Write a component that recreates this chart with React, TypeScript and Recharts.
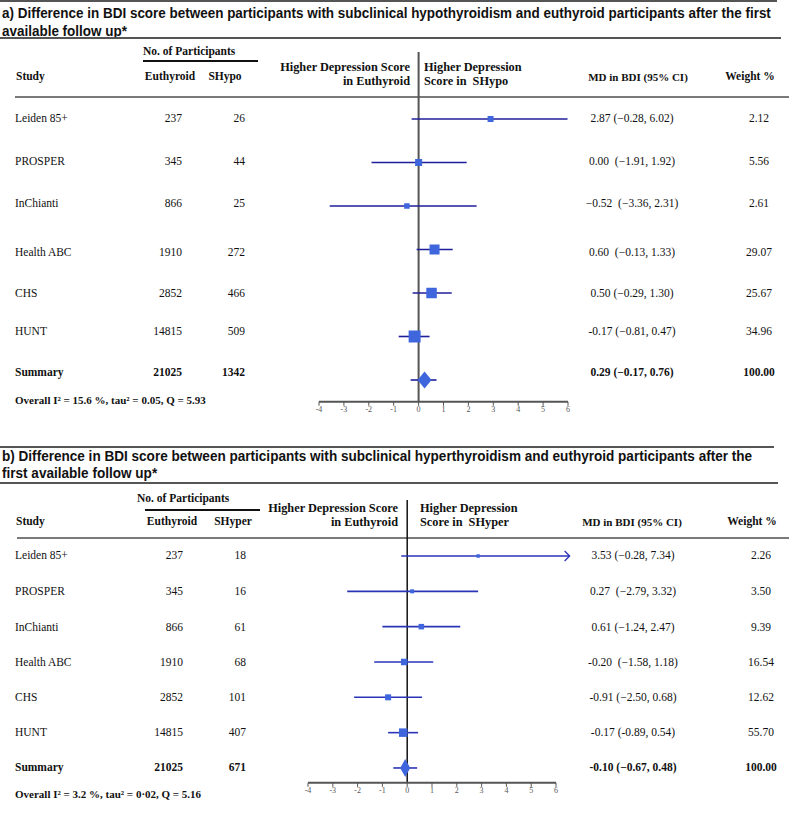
import React, { useLayoutEffect, useRef, useState } from 'react';
import { ScatterChart, Scatter, XAxis, YAxis, ErrorBar, ReferenceLine } from 'recharts';

// ---- data ----
const studies = ['Leiden 85+', 'PROSPER', 'InChianti', 'Health ABC', 'CHS', 'HUNT'];
const euthyroidN = [237, 345, 866, 1910, 2852, 14815];
const euthyroidTotal = 21025;
const xTicks = [-4, -3, -2, -1, 0, 1, 2, 3, 4, 5, 6];

// panel a: subclinical hypothyroidism (last entry = summary)
const shypoN = [26, 44, 25, 272, 466, 509];
const shypoTotal = 1342;
const mdA = [2.89, 0.0, -0.47, 0.64, 0.52, -0.16, 0.24];
const loA = [-0.28, -1.89, -3.57, -0.08, -0.24, -0.8, -0.32];
const hiA = [5.98, 1.93, 2.33, 1.37, 1.33, 0.44, 0.72];
const mdTextA = [
  '2.87 (\u22120.28, 6.02)',
  '0.00  (\u22121.91, 1.92)',
  '\u22120.52  (\u22123.36, 2.31)',
  '0.60  (\u22120.13, 1.33)',
  '0.50 (\u22120.29, 1.30)',
  '-0.17 (\u22120.81, 0.47)',
  '0.29 (\u22120.17, 0.76)',
];
const weightA = ['2.12', '5.56', '2.61', '29.07', '25.67', '34.96', '100.00'];
const overallA = 'Overall I\u00b2 = 15.6 %, tau\u00b2 = 0.05, Q = 5.93';

// panel b: subclinical hyperthyroidism (last entry = summary)
const shyperN = [18, 16, 61, 68, 101, 407];
const shyperTotal = 671;
const mdB = [2.86, 0.2, 0.57, -0.12, -0.77, -0.16, -0.08];
const loB = [-0.24, -2.42, -1.0, -1.33, -2.14, -0.77, -0.56];
const hiB = [6.55, 2.86, 2.14, 1.05, 0.6, 0.44, 0.4];
const truncB = [true, false, false, false, false, false, false];
const mdTextB = [
  '3.53 (\u22120.28, 7.34)',
  '0.27  (\u22122.79, 3.32)',
  '0.61 (\u22121.24, 2.47)',
  '-0.20  (\u22121.58, 1.18)',
  '-0.91 (\u22122.50, 0.68)',
  '-0.17 (-0.89, 0.54)',
  '-0.10 (\u22120.67, 0.48)',
];
const weightB = ['2.26', '3.50', '9.39', '16.54', '12.62', '55.70', '100.00'];
const overallB = 'Overall I\u00b2 = 3.2 %, tau\u00b2 = 0\u00b702, Q = 5.16';

// ---- styling ----
const SERIF = '"Liberation Serif", "Times New Roman", serif';
const SANS = '"Liberation Sans", Arial, sans-serif';
const MARKER = '#3f66dd';
const sizeA = [6, 7, 5.5, 10, 10.5, 12];
const sizeB = [3.5, 4, 5.5, 6.5, 6, 8.5];

type TProps = {
  x: number;
  y: number;
  children: React.ReactNode;
  anchor?: 'start' | 'middle' | 'end';
  bold?: boolean;
  size?: number;
  font?: string;
  color?: string;
};

const T = ({ x, y, children, anchor = 'start', bold, size = 11.5, font = SERIF, color = '#111' }: TProps) => (
  <div
    style={{
      position: 'absolute',
      left: x,
      top: y,
      transform: `translate(${anchor === 'start' ? '0' : anchor === 'middle' ? '-50%' : '-100%'}, -50%)`,
      whiteSpace: 'pre',
      fontFamily: font,
      fontSize: size,
      fontWeight: bold ? 'bold' : 'normal',
      lineHeight: 1,
      color,
    }}
  >
    {children}
  </div>
);

// condensed bold title: first line is squeezed to the measured width, second line uses the same factor
const Title = ({ lines, ys, width }: { lines: [string, string]; ys: [number, number]; width: number }) => {
  const ref = useRef<HTMLDivElement>(null);
  const [k, setK] = useState(0.85);
  useLayoutEffect(() => {
    if (ref.current) setK(width / ref.current.offsetWidth);
  }, [width]);
  return (
    <>
      {lines.map((line, i) => (
        <div
          key={i}
          ref={i === 0 ? ref : undefined}
          style={{
            position: 'absolute',
            left: 2,
            top: ys[i],
            transform: `translateY(-50%) scaleX(${k})`,
            transformOrigin: 'left center',
            whiteSpace: 'pre',
            fontFamily: SANS,
            fontWeight: 'bold',
            fontSize: 15,
            lineHeight: 1,
            color: '#111',
          }}
        >
          {line}
        </div>
      ))}
    </>
  );
};

const Rule = ({ x1, x2, y, w = 2, color = '#6a6a6a' }: { x1: number; x2: number; y: number; w?: number; color?: string }) => (
  <div style={{ position: 'absolute', left: x1, top: y - w / 2, width: x2 - x1, height: w, background: color }} />
);

const Marker = (props: any) => {
  const { cx, cy, payload } = props;
  if (cx == null || cy == null) return null;
  if (payload.summary) {
    const w = payload.dw / 2;
    const h = payload.dh / 2;
    return <path d={`M${cx - w},${cy}L${cx},${cy - h}L${cx + w},${cy}L${cx},${cy + h}Z`} fill={MARKER} />;
  }
  const s = payload.size;
  return <rect x={cx - s / 2} y={cy - s / 2} width={s} height={s} fill={MARKER} />;
};

const Chevron = (props: any) => {
  const { cx, cy, fill } = props;
  if (cx == null || cy == null) return null;
  return <path d={`M${cx - 5},${cy - 5}L${cx},${cy}L${cx - 5},${cy + 5}`} fill="none" stroke={fill} strokeWidth={1.3} />;
};

type PanelProps = {
  top: number;
  height: number;
  plotTop: number;
  rowStep: number;
  yMax: number;
  xLeft: number;
  xUnit: number;
  zeroTop: number;
  md: number[];
  lo: number[];
  hi: number[];
  trunc?: boolean[];
  sizes: number[];
  diamond: [number, number];
  ciColor: string;
  zeroColor: string;
  zeroWidth: number;
};

const ForestPlot = (p: PanelProps) => {
  const width = 789;
  const plotRight = p.xLeft + 11 * p.xUnit;
  const plotBottom = p.plotTop + (p.yMax + 0.5) * p.rowStep;
  const axisH = 20;
  const points = p.md.map((v, i) => ({
    x: v,
    y: i,
    err: [v - p.lo[i], p.hi[i] - v],
    size: p.sizes[i] ?? 0,
    summary: i === p.md.length - 1,
    dw: p.diamond[0],
    dh: p.diamond[1],
  }));
  const arrows = (p.trunc || [])
    .map((t, i) => (t ? { x: p.hi[i], y: i } : null))
    .filter(Boolean) as { x: number; y: number }[];
  const zeroY = -0.5 - (p.plotTop - p.zeroTop) / p.rowStep;

  return (
    <div style={{ position: 'absolute', left: 0, top: p.top }}>
      <ScatterChart
        width={width}
        height={p.height}
        margin={{
          top: p.plotTop,
          left: p.xLeft,
          right: width - plotRight,
          bottom: p.height - plotBottom - axisH,
        }}
      >
        <XAxis
          type="number"
          dataKey="x"
          domain={[-4, 7]}
          ticks={xTicks}
          allowDataOverflow
          axisLine={false}
          tickLine={{ stroke: '#555', strokeWidth: 1 }}
          tickSize={4}
          tickMargin={1}
          tick={{ fontSize: 8, fill: '#555', fontFamily: SERIF }}
          height={axisH}
        />
        <YAxis type="number" dataKey="y" domain={[-0.5, p.yMax]} reversed hide allowDataOverflow />
        <ReferenceLine
          segment={[
            { x: 0, y: zeroY },
            { x: 0, y: p.yMax },
          ]}
          stroke={p.zeroColor}
          strokeWidth={p.zeroWidth}
          ifOverflow="visible"
        />
        <ReferenceLine
          segment={[
            { x: -4, y: p.yMax },
            { x: 6, y: p.yMax },
          ]}
          stroke="#555"
          strokeWidth={2}
          ifOverflow="visible"
        />
        <Scatter data={points} shape={Marker} isAnimationActive={false}>
          <ErrorBar dataKey="err" direction="x" width={0} stroke={p.ciColor} strokeWidth={1.6} />
        </Scatter>
        {arrows.length > 0 && (
          <Scatter data={arrows} shape={Chevron} fill={p.ciColor} isAnimationActive={false} />
        )}
      </ScatterChart>
    </div>
  );
};

type TableProps = {
  titleLines: [string, string];
  titleY: [number, number];
  titleWidth: number;
  rules: { top: number; title: number; header: number; right: number; headerLeft: number };
  nop: { y: number; x: number; lineY: number; lineX: [number, number] };
  headY: number;
  higherY: [number, number];
  leftHeadEnd: number;
  rightHeadStart: number;
  groupLabel: string;
  eCols: { head: number; val: number };
  gCols: { head: number; val: number };
  mdX: number;
  mdHeadX: number;
  wX: number;
  wHeadX: number;
  rowY: number[];
  overallY: number;
  groupN: number[];
  groupTotal: number;
  mdText: string[];
  weights: string[];
  overall: string;
};

const Table = (t: TableProps) => {
  const labels = [...studies, 'Summary'];
  const eN = [...euthyroidN.map(String), String(euthyroidTotal)];
  const gN = [...t.groupN.map(String), String(t.groupTotal)];
  return (
    <>
      <Rule x1={0} x2={t.rules.right} y={t.rules.top} w={1.5} color="#555" />
      <Title lines={t.titleLines} ys={t.titleY} width={t.titleWidth} />
      <Rule x1={0} x2={t.rules.right + 4} y={t.rules.title} w={1.5} color="#555" />

      <T x={t.nop.x} y={t.nop.y} bold size={11.5}>
        No. of Participants
      </T>
      <Rule x1={t.nop.lineX[0]} x2={t.nop.lineX[1]} y={t.nop.lineY} w={1.5} color="#111" />
      <T x={16} y={t.headY} bold size={11.5}>
        Study
      </T>
      <T x={t.eCols.head} y={t.headY} anchor="middle" bold size={11.5}>
        Euthyroid
      </T>
      <T x={t.gCols.head} y={t.headY} anchor="middle" bold size={11.5}>
        {t.groupLabel}
      </T>
      <T x={t.leftHeadEnd} y={t.higherY[0]} anchor="end" bold size={12.3}>
        Higher Depression Score
      </T>
      <T x={t.leftHeadEnd} y={t.higherY[1]} anchor="end" bold size={12.3}>
        in Euthyroid
      </T>
      <T x={t.rightHeadStart} y={t.higherY[0]} bold size={12.3}>
        Higher Depression
      </T>
      <T x={t.rightHeadStart} y={t.higherY[1]} bold size={12.3}>
        {`Score in  ${t.groupLabel}`}
      </T>
      <T x={t.mdHeadX} y={t.headY} anchor="middle" bold size={11}>
        MD in BDI (95% CI)
      </T>
      <T x={t.wHeadX} y={t.headY} anchor="middle" bold size={11.5}>
        Weight %
      </T>
      <Rule x1={t.rules.headerLeft} x2={789} y={t.rules.header} w={2.5} color="#7a7a7a" />

      {labels.map((name, i) => {
        const bold = i === labels.length - 1;
        const y = t.rowY[i];
        return (
          <React.Fragment key={name}>
            <T x={15} y={y} bold={bold}>
              {name}
            </T>
            <T x={t.eCols.val} y={y} anchor="end" bold={bold}>
              {eN[i]}
            </T>
            <T x={t.gCols.val} y={y} anchor="end" bold={bold}>
              {gN[i]}
            </T>
            <T x={t.mdX} y={y} anchor="middle" bold={bold}>
              {t.mdText[i]}
            </T>
            <T x={t.wX} y={y} anchor="middle" bold={bold}>
              {t.weights[i]}
            </T>
          </React.Fragment>
        );
      })}
      <T x={15} y={t.overallY} bold size={11}>
        {t.overall}
      </T>
    </>
  );
};

export default function App() {
  return (
    <div
      style={{
        position: 'absolute',
        left: 0,
        top: 0,
        width: 789,
        height: 813,
        background: '#fff',
        overflow: 'hidden',
      }}
    >
      <Table
        titleLines={[
          'a) Difference in BDI score between participants with subclinical hypothyroidism and euthyroid participants after the first',
          'available follow up*',
        ]}
        titleY={[12, 30]}
        titleWidth={769}
        rules={{ top: 1, title: 38, header: 97, right: 777, headerLeft: 15 }}
        nop={{ y: 52, x: 143, lineY: 61, lineX: [143, 258] }}
        headY={77}
        higherY={[67, 81]}
        leftHeadEnd={410}
        rightHeadStart={424}
        groupLabel="SHypo"
        eCols={{ head: 170, val: 182 }}
        gCols={{ head: 225, val: 245 }}
        mdX={632}
        mdHeadX={638}
        wX={759}
        wHeadX={750}
        rowY={[119, 162, 204, 253, 294, 332, 373]}
        overallY={400}
        groupN={shypoN}
        groupTotal={shypoTotal}
        mdText={mdTextA}
        weights={weightA}
        overall={overallA}
      />
      <Table
        titleLines={[
          'b) Difference in BDI score between participants with subclinical hyperthyroidism and euthyroid participants after the',
          'first available follow up*',
        ]}
        titleY={[455, 472]}
        titleWidth={750}
        rules={{ top: 447, title: 483, header: 538, right: 774, headerLeft: 17 }}
        nop={{ y: 499, x: 137, lineY: 510, lineX: [145, 260] }}
        headY={522}
        higherY={[508, 522]}
        leftHeadEnd={398}
        rightHeadStart={420}
        groupLabel="SHyper"
        eCols={{ head: 172, val: 183 }}
        gCols={{ head: 233, val: 246 }}
        mdX={633}
        mdHeadX={632}
        wX={761}
        wHeadX={752}
        rowY={[556, 592, 628, 663, 698, 733, 768]}
        overallY={794}
        groupN={shyperN}
        groupTotal={shyperTotal}
        mdText={mdTextB}
        weights={weightB}
        overall={overallB}
      />
      <ForestPlot
        top={0}
        height={430}
        plotTop={97.25}
        rowStep={43.5}
        yMax={6.5}
        xLeft={319}
        xUnit={24.9}
        zeroTop={52}
        md={mdA}
        lo={loA}
        hi={hiA}
        sizes={sizeA}
        diamond={[14, 17]}
        ciColor="#1f1f9a"
        zeroColor="#555"
        zeroWidth={2}
      />
      <ForestPlot
        top={430}
        height={383}
        plotTop={108.33}
        rowStep={35.33}
        yMax={6.42}
        xLeft={308}
        xUnit={24.8}
        zeroTop={70}
        md={mdB}
        lo={loB}
        hi={hiB}
        trunc={truncB}
        sizes={sizeB}
        diamond={[10, 18]}
        ciColor="#2a34b8"
        zeroColor="#111"
        zeroWidth={1.5}
      />
    </div>
  );
}
